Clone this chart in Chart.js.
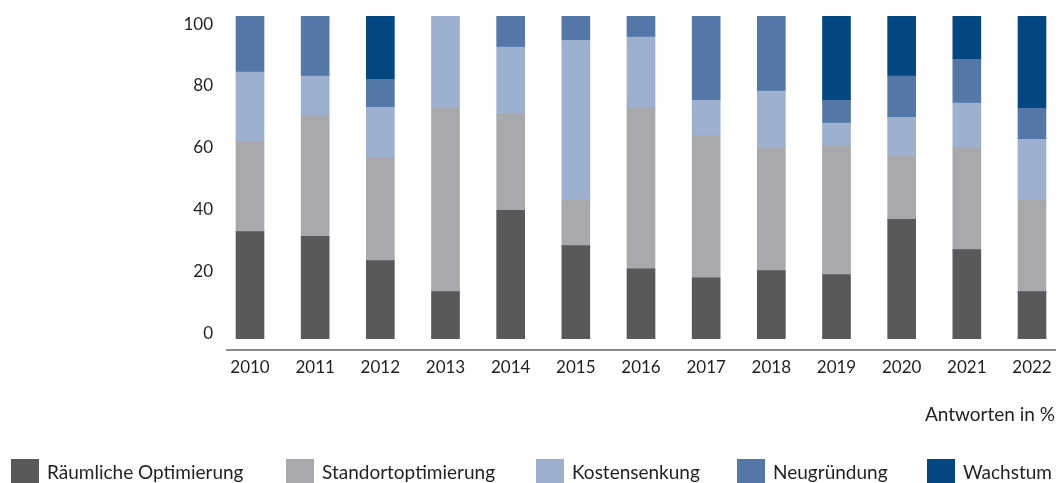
<!DOCTYPE html>
<html>
<head>
<meta charset="utf-8">
<script src="https://cdn.jsdelivr.net/npm/chart.js@4/dist/chart.umd.min.js"></script>
<style>
  html, body { margin: 0; padding: 0; background: #ffffff; overflow: hidden; }
  #wrap { width: 1059px; height: 483px; position: relative; }
</style>
</head>
<body>
<div id="wrap"><canvas id="c" width="1059" height="483"></canvas></div>
<script>
// ---- data ----
const years = ['2010','2011','2012','2013','2014','2015','2016','2017','2018','2019','2020','2021','2022'];
const seriesNames = ['Räumliche Optimierung','Standortoptimierung','Kostensenkung','Neugründung','Wachstum'];
const seriesColors = ['#58595b','#a8a9ad','#9db0cf','#5378a8','#024782'];
const raeumlicheOptimierung = [33.2, 31.7, 24.2, 14.6, 39.8, 28.9, 21.7, 18.9, 21.1, 19.9, 37.0, 27.6, 14.6];
const standortoptimierung   = [27.7, 37.5, 31.7, 56.8, 29.8, 14.0, 49.9, 44.1, 37.9, 40.0, 19.5, 31.7, 28.3];
const kostensenkung         = [21.7, 12.2, 15.8, 28.6, 20.8, 49.6, 21.9, 10.9, 17.7,  6.9, 12.1, 13.7, 18.9];
const neugruendung          = [17.4, 18.6,  8.7,  0.0,  9.6,  7.5,  6.5, 26.1, 23.3,  7.1, 12.8, 13.6,  9.6];
const wachstum              = [ 0.0,  0.0, 19.6,  0.0,  0.0,  0.0,  0.0,  0.0,  0.0, 26.1, 18.6, 13.4, 28.6];
const yTickValues = [0, 20, 40, 60, 80, 100];
const axisNote = 'Antworten in %';

const seriesValues = [raeumlicheOptimierung, standortoptimierung, kostensenkung, neugruendung, wachstum];

const FONT = 'Lato, "Open Sans", sans-serif';
const TEXT = '#231f20';

const datasets = seriesNames.map((name, s) => ({
  label: name,
  backgroundColor: seriesColors[s],
  borderWidth: 0,
  barThickness: 28,
  data: years.map((y, i) => ({ x: i, y: seriesValues[s][i] })),
  yAxisID: 'y',
  xAxisID: 'x'
}));

const bottomLegend = {
  id: 'bottomLegend',
  afterDraw(chart, args, opts) {
    const ctx = chart.ctx;
    ctx.save();
    ctx.font = opts.font;
    ctx.textAlign = 'left';
    ctx.textBaseline = 'alphabetic';
    chart.data.datasets.forEach((ds, i) => {
      const x = opts.starts[i];
      ctx.fillStyle = ds.backgroundColor;
      ctx.fillRect(x, opts.boxTop, opts.boxSize, opts.boxSize);
      ctx.fillStyle = opts.color;
      ctx.fillText(ds.label, x + opts.boxSize + opts.gap, opts.baseline);
    });
    ctx.restore();
  }
};

new Chart(document.getElementById('c'), {
  type: 'bar',
  data: { datasets },
  plugins: [bottomLegend],
  options: {
    responsive: false,
    animation: false,
    layout: { padding: { top: 16, right: 4, left: 0, bottom: 57 } },
    plugins: {
      legend: { display: false },
      tooltip: { enabled: false },
      bottomLegend: {
        font: '19px ' + FONT,
        color: TEXT,
        starts: [11, 286, 536, 737, 927],
        boxTop: 459,
        boxSize: 28,
        gap: 8,
        baseline: 479
      }
    },
    scales: {
      x: {
        type: 'linear',
        position: 'bottom',
        stacked: true,
        min: -0.353,
        max: 12.353,
        offset: false,
        afterBuildTicks: (scale) => { scale.ticks = years.map((_, i) => ({ value: i })); },
        afterFit: (scale) => { scale.paddingLeft = 0; scale.paddingRight = 0; },
        ticks: {
          autoSkip: false,
          maxRotation: 0,
          padding: 8,
          color: TEXT,
          font: { family: FONT, size: 17 },
          callback: (v) => years[v]
        },
        grid: { display: false, drawTicks: false },
        border: { display: true, color: '#8a8a8a', width: 2 },
        title: {
          display: true,
          text: axisNote,
          align: 'end',
          color: TEXT,
          font: { family: FONT, size: 19 },
          padding: { top: 17, bottom: 0 }
        }
      },
      y: {
        display: false,
        stacked: true,
        min: -3.42,
        max: 100
      },
      yLab: {
        type: 'linear',
        position: 'left',
        min: -5.18,
        max: 102.59,
        afterBuildTicks: (scale) => { scale.ticks = yTickValues.map(v => ({ value: v })); },
        afterFit: (scale) => { scale.width = 227; scale.paddingTop = 0; scale.paddingBottom = 0; },
        ticks: {
          padding: 14,
          color: TEXT,
          font: { family: FONT, size: 17 }
        },
        grid: { display: false, drawTicks: false },
        border: { display: false }
      }
    }
  }
});
</script>
</body>
</html>
